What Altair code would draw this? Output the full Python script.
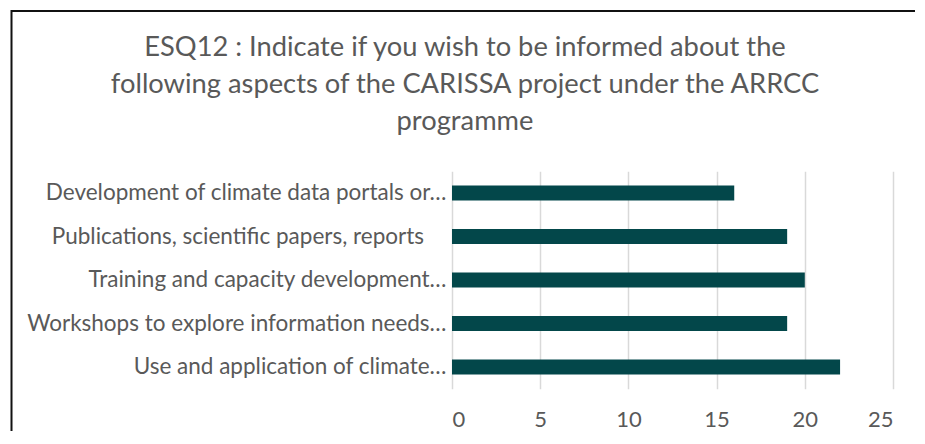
import altair as alt
import pandas as pd

categories = [
    "Development of climate data portals or…",
    "Publications, scientific papers, reports\u2003\u2005\u200b",
    "Training and capacity development…",
    "Workshops to explore information needs…",
    "Use and application of climate…",
]
values = [16, 19, 20, 19, 22]
title_lines = [
    "ESQ12 : Indicate if you wish to be informed about the",
    "following aspects of the CARISSA project under the ARRCC",
    "programme",
]
x_ticks = [0, 5, 10, 15, 20, 25]

df = pd.DataFrame({"label": categories, "count": values})

FONT = "Lato"
GREY = "#595959"

bars = alt.Chart(df).mark_bar(color="#03474A").encode(
    y=alt.Y(
        "label:N",
        sort=categories,
        scale=alt.Scale(paddingInner=0.65, paddingOuter=0.325),
        axis=alt.Axis(
            title=None, ticks=False, domain=False, grid=False,
            labelFont=FONT, labelFontSize=22.5, labelColor=GREY,
            labelPadding=6, labelLimit=500,
        ),
    ),
    x=alt.X(
        "count:Q",
        scale=alt.Scale(domain=[0, 25], nice=False),
        axis=alt.Axis(
            title=None, values=x_ticks, ticks=False, domain=False,
            grid=True, gridColor="#D9D9D9", gridWidth=1.5,
            labelFont=FONT, labelFontSize=22, labelColor=GREY,
            labelPadding=21,
        ),
    ),
)

frame = alt.Chart(pd.DataFrame({"a": [0]})).mark_rect(
    fill="transparent", stroke="#111111", strokeWidth=2
).encode(
    x=alt.value(-440.5), x2=alt.value(600),
    y=alt.value(-160.25), y2=alt.value(400),
)

title = alt.Chart(pd.DataFrame({"t": ["\n".join(title_lines)]})).mark_text(
    font=FONT, fontSize=27.3, color=GREY, lineBreak="\n", lineHeight=37,
    align="center", baseline="middle",
).encode(
    text="t:N",
    x=alt.value(13),
    y=alt.value(-123.25),
)

chart = alt.layer(frame, title, bars).properties(
    width=441,
    height=217.5,
    background="white",
    autosize=alt.AutoSizeParams(type="none"),
    padding={"left": 444, "top": 163.25, "right": 22, "bottom": 42},
).configure_view(stroke="transparent", strokeWidth=0)

chart.save("out.html", embed_options={"renderer": "svg", "actions": False})
